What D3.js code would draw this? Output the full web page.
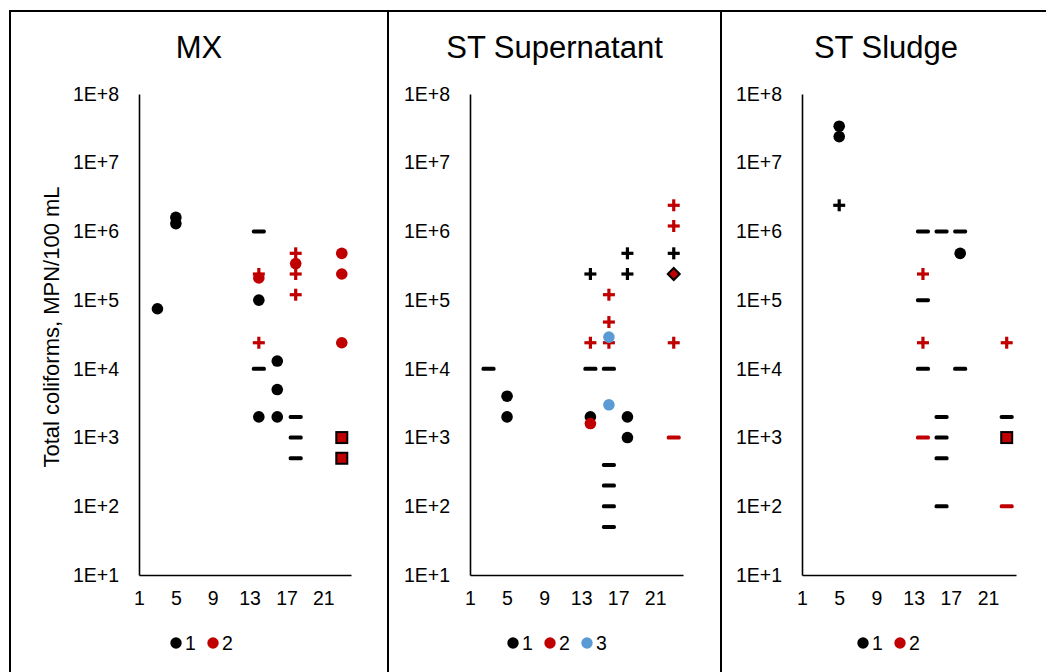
<!DOCTYPE html>
<html>
<head>
<meta charset="utf-8">
<script src="https://cdn.jsdelivr.net/npm/d3@7"></script>
<style>
  html, body { margin: 0; padding: 0; background: #fff; }
  svg { display: block; font-family: "Liberation Sans", Arial, sans-serif; }
</style>
</head>
<body>
<svg id="chart" width="1046" height="672"></svg>
<script>
// ---- Data: day of sampling vs. total coliforms (MPN/100 mL) ----
// marker: dot = measured, plus = above range, dash = below detection,
// square / diamond = flagged values
const panelTitles = ["MX", "ST Supernatant", "ST Sludge"];

const mxDay    = [14, 14, 18, 18, 18,  14, 14, 18, 18, 18,  23, 23,  3, 5, 5, 14, 14, 16, 16, 16,  14, 18, 23, 23, 23];
const mxCount  = [1e6, 1e4, 2e3, 1e3, 5e2,  2.4e5, 2.4e4, 4.8e5, 2.4e5, 1.2e5,  1e3, 5e2,
                  7.5e4, 1.6e6, 1.3e6, 1e5, 2e3, 1.3e4, 5e3, 2e3,  2.1e5, 3.4e5, 4.8e5, 2.4e5, 2.4e4];
const mxSeries = [1, 1, 1, 1, 1,  2, 2, 2, 2, 2,  2, 2,  1, 1, 1, 1, 1, 1, 1, 1,  2, 2, 2, 2, 2];
const mxMarker = ["dash", "dash", "dash", "dash", "dash",
                  "plus", "plus", "plus", "plus", "plus",
                  "square", "square",
                  "dot", "dot", "dot", "dot", "dot", "dot", "dot", "dot",
                  "dot", "dot", "dot", "dot", "dot"];

const supDay    = [3, 14, 16, 16, 16, 16, 16, 23,
                   14, 18, 18, 23,
                   14, 16, 16, 16, 23, 23, 23,
                   23,
                   5, 5, 14, 18, 18, 14, 16, 16];
const supCount  = [1e4, 1e4, 1e4, 4e2, 2e2, 1e2, 5e1, 1e3,
                   2.4e5, 4.8e5, 2.4e5, 4.8e5,
                   2.4e4, 1.2e5, 4.8e4, 2.4e4, 2.4e6, 1.2e6, 2.4e4,
                   2.4e5,
                   4e3, 2e3, 2e3, 2e3, 1e3, 1.6e3, 2.9e4, 3e3];
const supSeries = [1, 1, 1, 1, 1, 1, 1, 2,
                   1, 1, 1, 1,
                   2, 2, 2, 2, 2, 2, 2,
                   2,
                   1, 1, 1, 1, 1, 2, 3, 3];
const supMarker = ["dash", "dash", "dash", "dash", "dash", "dash", "dash", "dash",
                   "plus", "plus", "plus", "plus",
                   "plus", "plus", "plus", "plus", "plus", "plus", "plus",
                   "diamond",
                   "dot", "dot", "dot", "dot", "dot", "dot", "dot", "dot"];

const sluDay    = [14, 16, 18, 14, 14, 18, 16, 16, 16, 16, 23, 14, 23,
                   5, 14, 14, 23,
                   23,
                   5, 5, 18];
const sluCount  = [1e6, 1e6, 1e6, 1e5, 1e4, 1e4, 2e3, 1e3, 5e2, 1e2, 2e3, 1e3, 1e2,
                   2.4e6, 2.4e5, 2.4e4, 2.4e4,
                   1e3,
                   3.4e7, 2.4e7, 4.8e5];
const sluSeries = [1, 1, 1, 1, 1, 1, 1, 1, 1, 1, 1, 2, 2,
                   1, 2, 2, 2,
                   2,
                   1, 1, 1];
const sluMarker = ["dash", "dash", "dash", "dash", "dash", "dash", "dash", "dash", "dash", "dash", "dash", "dash", "dash",
                   "plus", "plus", "plus", "plus",
                   "square",
                   "dot", "dot", "dot"];

const legendSeries = [[1, 2], [1, 2, 3], [1, 2]];

const yTickValues = [1e1, 1e2, 1e3, 1e4, 1e5, 1e6, 1e7, 1e8];
const yTickLabels = ["1E+1", "1E+2", "1E+3", "1E+4", "1E+5", "1E+6", "1E+7", "1E+8"];
const xTickValues = [1, 5, 9, 13, 17, 21];
const xDomain = [1, 24];
const yLabel = "Total coliforms, MPN/100 mL";

// ---- Layout ----
const seriesColor = { 1: "#000000", 2: "#C00000", 3: "#5B9BD5" };
const svg = d3.select("#chart");
const FONT_TICK = 19.5;
const plotTop = 94, plotBottom = 575;

const panels = [
  { left: 10,  right: 388,  axisX: 139, axisEnd: 351,  day: mxDay,  count: mxCount,  series: mxSeries,  marker: mxMarker },
  { left: 388, right: 721,  axisX: 470, axisEnd: 683,  day: supDay, count: supCount, series: supSeries, marker: supMarker },
  { left: 721, right: 1051, axisX: 802, axisEnd: 1016, day: sluDay, count: sluCount, series: sluSeries, marker: sluMarker }
];

// panel frames
const frame = svg.append("g").attr("stroke", "#000").attr("stroke-width", 2);
frame.append("line").attr("x1", 9).attr("x2", 1046).attr("y1", 11).attr("y2", 11);
[10, 388, 721].forEach(x => {
  frame.append("line").attr("x1", x).attr("x2", x).attr("y1", 10).attr("y2", 672);
});

const y = d3.scaleLog().domain([1e1, 1e8]).range([plotBottom, plotTop]);

// marker drawing helpers
function drawMarker(g, type, color) {
  if (type === "dot") {
    g.append("circle").attr("r", 5.8).attr("fill", color);
  } else if (type === "plus") {
    g.append("rect").attr("x", -6).attr("y", -1.6).attr("width", 12).attr("height", 3.2).attr("fill", color);
    g.append("rect").attr("x", -1.6).attr("y", -6).attr("width", 3.2).attr("height", 12).attr("fill", color);
  } else if (type === "dash") {
    g.append("rect").attr("x", -7).attr("y", -2).attr("width", 14).attr("height", 4).attr("rx", 1.6).attr("fill", color);
  } else if (type === "square") {
    g.append("rect").attr("x", -5.5).attr("y", -5.5).attr("width", 11).attr("height", 11)
      .attr("fill", color).attr("stroke", "#000").attr("stroke-width", 2);
  } else if (type === "diamond") {
    g.append("path").attr("d", "M0,-6L6,0L0,6L-6,0Z")
      .attr("fill", color).attr("stroke", "#000").attr("stroke-width", 2).attr("stroke-linejoin", "miter");
  }
}

const markerOrder = { dash: 0, plus: 1, square: 2, diamond: 2, dot: 3 };

panels.forEach((p, i) => {
  const g = svg.append("g");
  const x = d3.scaleLinear().domain(xDomain).range([p.axisX, p.axisEnd]);
  const center = (p.left + p.right) / 2;

  // title
  g.append("text")
    .attr("x", center).attr("y", 58)
    .attr("text-anchor", "middle")
    .attr("font-size", 31)
    .attr("fill", "#000")
    .text(panelTitles[i]);

  // y axis
  const yAxis = d3.axisLeft(y)
    .tickValues(yTickValues)
    .tickFormat((d, k) => yTickLabels[k])
    .tickSize(0).tickSizeOuter(0).tickPadding(20);
  const ya = g.append("g").attr("transform", `translate(${p.axisX},0)`).call(yAxis);
  ya.select(".domain").attr("stroke", "#000").attr("stroke-width", 1.6);
  ya.selectAll("text").attr("font-size", FONT_TICK).attr("fill", "#000")
    .attr("font-family", "Liberation Sans, Arial, sans-serif");

  // x axis
  const xAxis = d3.axisBottom(x)
    .tickValues(xTickValues)
    .tickFormat(d3.format("d"))
    .tickSize(0).tickSizeOuter(0).tickPadding(16);
  const xa = g.append("g").attr("transform", `translate(0,${plotBottom})`).call(xAxis);
  xa.select(".domain").attr("stroke", "#000").attr("stroke-width", 1.6);
  xa.selectAll("text").attr("font-size", FONT_TICK).attr("fill", "#000")
    .attr("font-family", "Liberation Sans, Arial, sans-serif");

  // points
  const pts = p.day.map((d, k) => ({ day: d, count: p.count[k], series: p.series[k], marker: p.marker[k], k }));
  pts.sort((a, b) => (markerOrder[a.marker] - markerOrder[b.marker]) || (a.series - b.series) || (a.k - b.k));
  const layer = g.append("g");
  pts.forEach(pt => {
    const mg = layer.append("g").attr("transform", `translate(${x(pt.day)},${y(pt.count)})`);
    drawMarker(mg, pt.marker, seriesColor[pt.series]);
  });

  // legend
  const items = legendSeries[i];
  const step = 37;
  const startX = center - (items.length * step - 10) / 2 + 9;
  const lg = g.append("g");
  items.forEach((s, k) => {
    const lx = startX + k * step;
    lg.append("circle").attr("cx", lx).attr("cy", 643).attr("r", 5.7).attr("fill", seriesColor[s]);
    lg.append("text").attr("x", lx + 9).attr("y", 650)
      .attr("font-size", FONT_TICK).attr("fill", "#000").text(s);
  });
});

// shared y-axis title
svg.append("text")
  .attr("transform", "translate(59,327) rotate(-90)")
  .attr("text-anchor", "middle")
  .attr("font-size", 22)
  .attr("fill", "#000")
  .text(yLabel);
</script>
</body>
</html>
